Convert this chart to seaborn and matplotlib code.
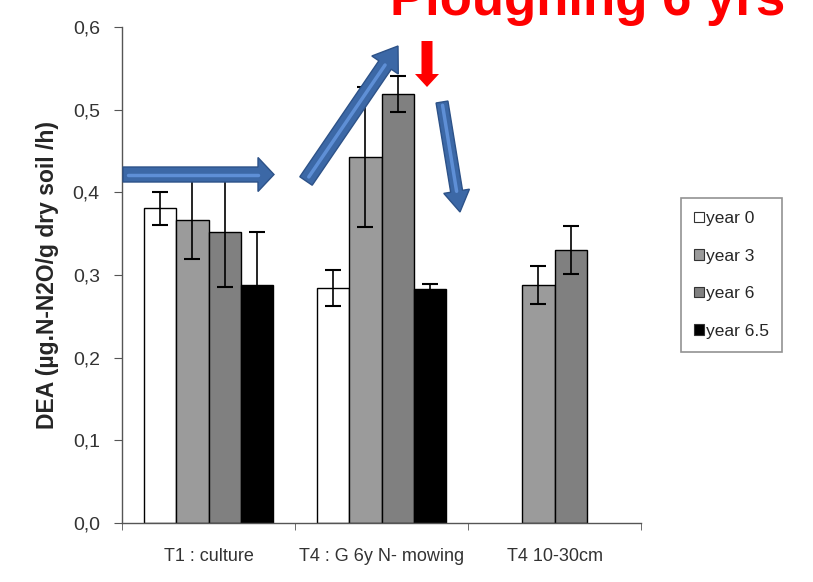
import numpy as np
import pandas as pd
import matplotlib
matplotlib.use("Agg")
import matplotlib.pyplot as plt
import matplotlib.patches as mpatches
from matplotlib.transforms import Affine2D
import seaborn as sns

# ---- data ----
categories = ["T1 : culture", "T4 : G 6y N- mowing", "T4 10-30cm"]
years = ["year 0", "year 3", "year 6", "year 6.5"]
year0 = [0.381, 0.284, np.nan]
year3 = [0.367, 0.443, 0.288]
year6 = [0.352, 0.519, 0.330]
year65 = [0.288, 0.283, np.nan]
err0 = [0.020, 0.022, np.nan]
err3 = [0.048, 0.085, 0.023]
err6 = [0.066, 0.022, 0.029]
err65 = [0.064, 0.006, np.nan]
yticks = [0.0, 0.1, 0.2, 0.3, 0.4, 0.5, 0.6]
ytick_labels = ["0,0", "0,1", "0,2", "0,3", "0,4", "0,5", "0,6"]
colors = ["#ffffff", "#9b9b9b", "#808080", "#000000"]

vals = [year0, year3, year6, year65]
errs = [err0, err3, err6, err65]
rows = []
for y, v, e in zip(years, vals, errs):
    for c, vv, ee in zip(categories, v, e):
        if not np.isnan(vv):
            rows.append({"cat": c, "year": y, "val": vv, "err": ee})
df = pd.DataFrame(rows)

sns.set_style("ticks")
plt.rcParams["font.family"] = ["Liberation Sans", "DejaVu Sans"]

W, H = 813, 582
fig = plt.figure(figsize=(W / 100, H / 100), dpi=100)
ax = fig.add_axes([122 / W, 1 - 523 / H, (641 - 122) / W, (523 - 27) / H])

sns.barplot(data=df, x="cat", y="val", hue="year", order=categories,
            hue_order=years, palette=colors, width=0.74, edgecolor="black",
            linewidth=1.0, ax=ax, legend=False, errorbar=None, zorder=2)

# error bars from data
bar_containers = list(ax.containers)
for hi, cont in enumerate(bar_containers):
    yname = years[hi]
    for bar in cont:
        xc = bar.get_x() + bar.get_width() / 2
        ci = int(round(xc))
        row = df[(df["cat"] == categories[ci]) & (df["year"] == yname)]
        if len(row):
            ax.errorbar(xc, row["val"].iloc[0], yerr=row["err"].iloc[0],
                        fmt="none", ecolor="black", elinewidth=1.2,
                        capsize=5.5, capthick=1.5, zorder=3)

ax.set_xlim(-0.5, len(categories) - 0.5)
ax.set_ylim(0, 0.6)
ax.set_yticks(yticks)
ax.set_yticklabels(ytick_labels, fontsize=14, color="#333333")
ax.set_xticks(range(len(categories)))
ax.set_xticklabels(categories, fontsize=13, color="#333333")
ax.tick_params(axis="x", length=0, pad=18)
ax.set_xticks(np.arange(-0.5, len(categories), 1.0), minor=True)
ax.tick_params(axis="x", which="minor", length=5, color="#555555")
ax.tick_params(axis="y", length=6, color="#555555", pad=10)
ax.set_xlabel("")
ax.set_ylabel("DEA (µg.N-N2O/g dry soil /h)", fontsize=16.5, fontweight="bold",
              labelpad=10)
for s in ["top", "right"]:
    ax.spines[s].set_visible(False)
for s in ["left", "bottom"]:
    ax.spines[s].set_color("#555555")
    ax.spines[s].set_linewidth(1.0)

# legend
handles = [mpatches.Patch(facecolor=c, edgecolor="#333333", linewidth=0.8)
           for c in colors]
leg = fig.legend(handles, years, loc="upper left",
                 bbox_to_anchor=(681 / W, 1 - 198 / H),
                 bbox_transform=fig.transFigure, frameon=True, fancybox=False,
                 fontsize=12.5, handlelength=0.55, handleheight=0.55,
                 handletextpad=0.15, labelspacing=1.3, borderpad=0.75,
                 borderaxespad=0)
leg.get_frame().set_edgecolor("#777777")
leg.get_frame().set_linewidth(1.2)

# annotation arrows (pixel coords, top-left origin)
pix = Affine2D().scale(1, -1).translate(0, H)

def block_arrow(x0, y0, x1, y1, w, hw, hl):
    a = mpatches.FancyArrow(x0, y0, x1 - x0, y1 - y0, width=w, head_width=hw,
                            head_length=hl, length_includes_head=True,
                            facecolor="#3C68A6", edgecolor="#2D5288",
                            linewidth=1.0, transform=pix, zorder=10)
    fig.add_artist(a)
    L = np.hypot(x1 - x0, y1 - y0)
    f = (L - hl) / L
    fig.add_artist(plt.Line2D([x0 + (x1 - x0) * 0.03, x0 + (x1 - x0) * f],
                              [y0 + (y1 - y0) * 0.03, y0 + (y1 - y0) * f],
                              color="#5E8FD6", linewidth=2.5, transform=pix,
                              zorder=11))

block_arrow(123, 174.5, 274, 174.5, 15, 34, 16)
block_arrow(306, 181, 398, 46, 15, 32, 23)
block_arrow(442, 102, 460, 212, 12, 26, 21)

red = mpatches.FancyArrow(427, 41, 0, 46, width=11, head_width=24,
                          head_length=13, length_includes_head=True,
                          facecolor="#ff0000", edgecolor="none",
                          transform=pix, zorder=10)
fig.add_artist(red)

fig.text(588 / W, 1 - 15 / H, "Ploughing 6 yrs", color="#ff0000",
         fontsize=38, fontweight="bold", ha="center", va="baseline")

fig.savefig("out.png", dpi=100)
